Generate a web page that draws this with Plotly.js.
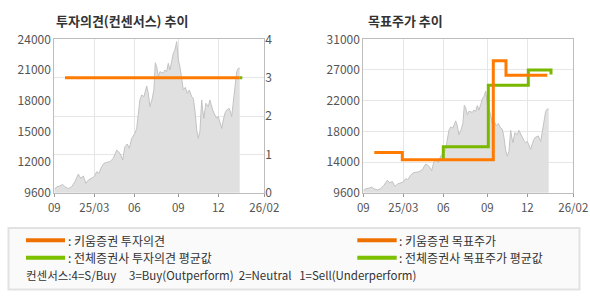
<!DOCTYPE html>
<html>
<head>
<meta charset="utf-8">
<script src="https://cdn.plot.ly/plotly-3.0.1.min.js"></script>
<style>html,body{margin:0;padding:0;background:#fff;}#chart{width:590px;height:300px;}</style>
</head>
<body>
<div id="chart"></div>
<script>
// ---- data ----
const xTickText = ['09', '25/03', '06', '09', '12', '26/02'];
const xTickPos = [0, 20, 40, 62, 82, 105];

const priceX = [0, 1.2, 2.8, 4.2, 5.3, 7, 8.7, 10.3, 12, 13.2, 14.5, 15.8, 17, 18.7, 20, 21.2, 22.3, 23.7, 24.8, 26.2, 27.8, 29.5, 31.2, 32.2, 33.2, 34.2, 35.3, 36.5, 37.5, 38.7, 40.3, 41.2, 42, 42.8, 43.7, 44.8, 46.2, 47, 47.8, 48.8, 49.8, 50.5, 51.2, 52, 52.8, 54.5, 55.3, 56.2, 57, 57.8, 58.7, 59.5, 60.3, 61.2, 62, 62.8, 63.7, 64.5, 65.5, 66.5, 67.5, 68.7, 69.5, 70.3, 71.2, 72, 72.8, 73.7, 74.2, 74.8, 75.8, 77, 77.8, 79.2, 80.3, 81.2, 82, 82.8, 83.7, 84.5, 85.3, 86.2, 87.5, 88.7, 89.5, 90.3, 91.2, 92, 92.7];
const price = [9900, 10150, 10230, 10380, 10160, 9980, 10160, 10630, 11350, 10950, 11170, 10480, 10790, 10950, 11100, 11570, 11420, 12040, 12350, 12450, 12510, 12820, 13600, 13450, 13140, 12670, 13920, 14170, 13760, 14700, 15170, 15640, 17360, 18300, 18770, 18620, 19620, 18930, 17680, 18300, 19240, 21800, 21430, 20490, 20960, 20810, 21120, 20960, 21750, 21120, 21900, 22690, 23000, 23780, 22060, 21430, 20340, 19240, 19490, 18930, 19240, 18620, 18460, 17360, 15490, 14700, 15330, 18300, 17360, 16580, 17990, 17680, 18300, 17360, 16890, 16580, 16740, 16270, 15640, 16420, 17050, 17360, 17520, 16740, 17990, 19560, 20960, 21280, 21280];

// investment opinion (consensus scale 1-4)
const opinionKiwoomX = [5.35, 92.7];
const opinionKiwoom = [3, 3];
const opinionAvgX = [92.7, 94];
const opinionAvg = [3, 3];

// target price
const targetKiwoomX = [5.5, 19.5, 65, 71.35, 92];
const targetKiwoom = [15200, 14200, 28000, 26000, 26000];
const targetAvgX = [40, 40, 62.5, 82.5, 93.85];
const targetAvg = [14200, 16000, 24600, 26700, 26100];

const leftYTickText = ['9600', '12000', '15000', '18000', '21000', '24000'];
const rightYTickText = ['9600', '14000', '18000', '22000', '27000', '31000'];
const opinionTicks = [0, 1, 2, 3, 4];

const titles = ['투자의견(컨센서스) 추이', '목표주가 추이'];
const legendLabels = [': 키움증권 투자의견', ': 전체증권사 투자의견 평균값', ': 키움증권 목표주가', ': 전체증권사 목표주가 평균값'];
const consensusNote = '컨센서스:4=S/Buy\u00a0\u00a0\u00a0\u00a0\u00a03=Buy(Outperform)\u00a0\u00a02=Neutral\u00a0\u00a0\u00a01=Sell(Underperform)';

// ---- styling ----
const W = 590, H = 300;
const ORANGE = '#ff7a00', GREEN = '#7ab800';
const FONT = 'Noto Sans CJK KR, DejaVu Sans, sans-serif';
const px = v => v / W;
const py = v => (H - v) / H;
function lin(a, b, n) { const r = []; for (let i = 0; i < n; i++) r.push(a + (b - a) * i / (n - 1)); return r; }

const leftRange = [9600, 24000];
const rightRange = [9600, 31000];
const yDomain = [py(192.7), py(39.3)];

const tickFont = {family: FONT, size: 12, color: '#555'};
const axBase = {
  showline: true, linecolor: '#bdbdbd', linewidth: 1, mirror: true,
  ticks: '', tickfont: tickFont,
  zeroline: false, fixedrange: true, gridcolor: '#e6e6e6', gridwidth: 1
};

const priceStyle = {type: 'scatter', mode: 'lines', fill: 'tozeroy', fillcolor: '#e0e0e0',
  line: {color: '#c2c2c2', width: 1}, hoverinfo: 'skip', showlegend: false};

const traces = [
  Object.assign({x: priceX, y: price, xaxis: 'x', yaxis: 'y'}, priceStyle),
  {x: opinionAvgX, y: opinionAvg, xaxis: 'x', yaxis: 'y2', mode: 'lines', line: {color: GREEN, width: 3}, showlegend: false},
  {x: opinionKiwoomX, y: opinionKiwoom, xaxis: 'x', yaxis: 'y2', mode: 'lines', line: {color: ORANGE, width: 3}, showlegend: false},
  Object.assign({x: priceX, y: price, xaxis: 'x2', yaxis: 'y3'}, priceStyle),
  {x: targetAvgX, y: targetAvg, xaxis: 'x2', yaxis: 'y3', mode: 'lines', line: {color: GREEN, width: 3, shape: 'hv'}, showlegend: false},
  {x: targetKiwoomX, y: targetKiwoom, xaxis: 'x2', yaxis: 'y3', mode: 'lines', line: {color: ORANGE, width: 3, shape: 'hv'}, showlegend: false}
];

const xCommon = Object.assign({}, axBase, {range: [0, 105], tickmode: 'array', tickvals: xTickPos, ticktext: xTickText,
  showgrid: true, ticks: 'outside', ticklen: 3, tickcolor: '#999', ticklabelstandoff: 1,
  tickfont: {family: FONT, size: 11.5, color: '#555'}});

const layout = {
  width: W, height: H,
  margin: {l: 0, r: 0, t: 0, b: 0},
  paper_bgcolor: '#fff', plot_bgcolor: '#fff',
  showlegend: false,
  font: {family: FONT},
  xaxis: Object.assign({}, xCommon, {domain: [px(54.3), px(264.3)], anchor: 'y'}),
  yaxis: Object.assign({}, axBase, {domain: yDomain, range: leftRange, tickmode: 'array',
    tickvals: lin(leftRange[0], leftRange[1], leftYTickText.length), ticktext: leftYTickText, showgrid: false, anchor: 'x'}),
  yaxis2: Object.assign({}, axBase, {overlaying: 'y', side: 'right', range: [0, 4], tickmode: 'array',
    tickvals: opinionTicks, ticktext: opinionTicks.map(String), showgrid: true, showline: false, anchor: 'x'}),
  xaxis2: Object.assign({}, xCommon, {domain: [px(363.3), px(573.3)], anchor: 'y3'}),
  yaxis3: Object.assign({}, axBase, {domain: yDomain, range: rightRange, tickmode: 'array',
    tickvals: lin(rightRange[0], rightRange[1], rightYTickText.length), ticktext: rightYTickText, showgrid: true, anchor: 'x2'}),
  shapes: [
    {type: 'rect', xref: 'paper', yref: 'paper', x0: px(8.5), x1: px(579.5), y0: py(289.5), y1: py(228),
      fillcolor: '#fafafa', line: {color: '#e2e2e2', width: 2}, layer: 'below'},
    {type: 'line', xref: 'paper', yref: 'paper', x0: px(26), x1: px(65), y0: py(240.3), y1: py(240.3), line: {color: '#ee7000', width: 4}},
    {type: 'line', xref: 'paper', yref: 'paper', x0: px(26), x1: px(65), y0: py(257.7), y1: py(257.7), line: {color: '#7cc000', width: 4}},
    {type: 'line', xref: 'paper', yref: 'paper', x0: px(357.3), x1: px(396.7), y0: py(240.3), y1: py(240.3), line: {color: '#ee7000', width: 4}},
    {type: 'line', xref: 'paper', yref: 'paper', x0: px(357.3), x1: px(396.7), y0: py(257.7), y1: py(257.7), line: {color: '#7cc000', width: 4}}
  ],
  annotations: [
    {text: '<b>' + titles[0] + '</b>', x: px(55), y: py(20.5), xanchor: 'left', yanchor: 'middle'},
    {text: '<b>' + titles[1] + '</b>', x: px(366.5), y: py(20.5), xanchor: 'left', yanchor: 'middle'},
    {text: legendLabels[0], x: px(67), y: py(240.3), xanchor: 'left', yanchor: 'middle', font: {size: 12, color: '#333', family: FONT}},
    {text: legendLabels[1], x: px(67), y: py(257.7), xanchor: 'left', yanchor: 'middle', font: {size: 12, color: '#333', family: FONT}},
    {text: legendLabels[2], x: px(398), y: py(240.3), xanchor: 'left', yanchor: 'middle', font: {size: 12, color: '#333', family: FONT}},
    {text: legendLabels[3], x: px(398), y: py(257.7), xanchor: 'left', yanchor: 'middle', font: {size: 12, color: '#333', family: FONT}},
    {text: consensusNote, x: px(25), y: py(275.3), xanchor: 'left', yanchor: 'middle', font: {size: 11.5, color: '#333', family: FONT}}
  ].map(a => Object.assign({xref: 'paper', yref: 'paper', showarrow: false, borderpad: 0, font: {size: 13, color: '#333', family: FONT}}, a))
};

Plotly.newPlot('chart', traces, layout, {displayModeBar: false, staticPlot: true});
</script>
</body>
</html>
